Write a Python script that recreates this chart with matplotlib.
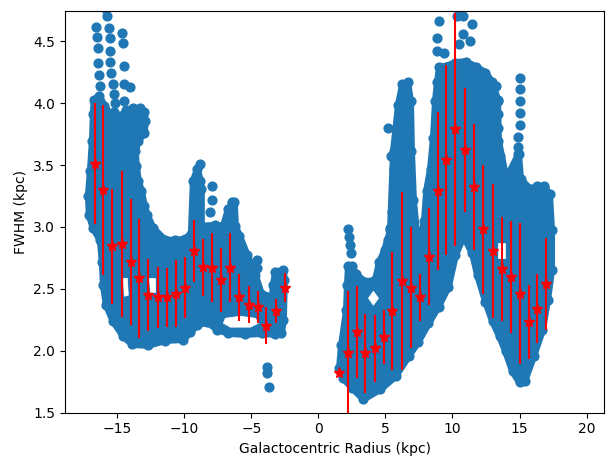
import numpy as np
import matplotlib
matplotlib.use("Agg")
import matplotlib.pyplot as plt
from matplotlib.patches import Polygon

BLUE = "#1f77b4"

# binned FWHM means with scatter (kpc)
bin_r_inner = [-16.7, -16.07, -15.4, -14.65, -14.0, -13.36, -12.69, -11.99, -11.3, -10.62, -9.93,
               -9.25, -8.6, -7.93, -7.24, -6.57, -5.9, -5.2, -4.53, -3.88, -3.16, -2.51]
bin_fwhm_inner = [3.51, 3.30, 2.845, 2.86, 2.72, 2.585, 2.45, 2.43, 2.43, 2.46, 2.51,
                  2.805, 2.675, 2.67, 2.57, 2.67, 2.43, 2.37, 2.35, 2.20, 2.32, 2.51]
bin_err_inner = [0.49, 0.69, 0.465, 0.59, 0.51, 0.48, 0.29, 0.25, 0.24, 0.27, 0.25,
                 0.25, 0.23, 0.28, 0.26, 0.28, 0.19, 0.15, 0.13, 0.15, 0.10, 0.12]

bin_r_outer = [1.57, 2.19, 2.84, 3.48, 4.2, 4.87, 5.5, 6.22, 6.87, 7.54, 8.26, 8.9,
               9.55, 10.2, 10.92, 11.6, 12.27, 12.99, 13.66, 14.33, 15.0, 15.7, 16.34, 17.0]
bin_fwhm_outer = [1.82, 1.985, 2.15, 1.98, 2.02, 2.11, 2.32, 2.56, 2.51, 2.43, 2.76, 3.29,
                  3.54, 3.79, 3.62, 3.32, 2.98, 2.805, 2.66, 2.595, 2.46, 2.23, 2.34, 2.54]
bin_err_outer = [0.03, 0.495, 0.37, 0.32, 0.27, 0.22, 0.48, 0.72, 0.49, 0.19, 0.39, 0.64,
                 0.77, 0.94, 0.50, 0.51, 0.52, 0.54, 0.42, 0.45, 0.57, 0.30, 0.28, 0.37]

# outline of the dense point clouds (R, FWHM), traced along the centres of the edge points
cloud_neg_r = [-16.74, -16.34, -15.97, -15.52, -15.22, -14.78, -14.33, -13.81, -13.28, -12.98,
               -12.91, -12.98, -13.43, -13.66, -13.58, -13.43, -13.21, -12.98, -12.76, -12.31,
               -11.42, -10.67, -9.93, -9.48, -9.33, -9.03, -8.81, -8.73, -8.73, -7.69,
               -7.09, -6.72, -6.42, -6.27, -6.19, -5.90, -5.30, -4.70, -4.25, -3.43,
               -3.36, -3.21, -2.61, -2.54, -2.61, -2.76, -3.21, -4.18, -5.45, -6.72,
               -7.54, -8.28, -9.03, -9.55, -10.07, -11.42, -12.69, -13.88, -14.55, -15.30,
               -15.82, -16.04, -16.12, -16.27, -16.79, -17.09, -17.16, -17.01, -16.86, -16.79]
cloud_neg_fwhm = [4.03, 4.055, 3.982, 3.91, 3.926, 3.893, 3.942, 3.958, 3.958, 3.926,
                  3.859, 3.760, 3.698, 3.617, 3.496, 3.375, 3.294, 3.173, 3.093, 2.988,
                  2.893, 2.893, 2.901, 2.947, 3.375, 3.466, 3.375, 3.310, 3.006, 3.014,
                  3.006, 3.143, 3.200, 3.200, 3.006, 2.931, 2.770, 2.609, 2.458, 2.434,
                  2.528, 2.635, 2.651, 2.569, 2.246, 2.139, 2.131, 2.139, 2.131, 2.139,
                  2.171, 2.228, 2.211, 2.147, 2.090, 2.082, 2.042, 2.050, 2.115, 2.236,
                  2.367, 2.528, 2.714, 2.891, 2.988, 3.093, 3.254, 3.456, 3.698, 3.910]

cloud_pos_r = [1.57, 1.72, 2.09, 2.16, 2.24, 2.54, 2.77, 3.51, 4.25, 4.55, 4.93, 5.37, 5.60,
               5.97, 6.27, 6.65, 6.87, 6.94, 7.09, 7.46, 7.91, 8.07, 8.36, 8.58, 8.73, 8.88,
               9.03, 9.48, 10.22, 10.97, 11.72, 12.46, 12.98, 13.36, 13.43, 13.96, 14.26, 14.92,
               14.93, 15.08, 15.82, 16.34, 16.79, 17.24, 17.39, 17.39, 17.09, 16.71, 16.05,
               15.38, 15.00, 14.48, 13.96, 13.51, 12.99, 12.46, 11.87, 11.49, 10.82, 10.22,
               9.70, 8.96, 8.21, 7.46, 6.72, 5.75, 4.63, 3.36, 2.54, 1.87]
cloud_pos_fwhm = [1.859, 2.044, 2.327, 2.528, 2.684, 2.684, 2.619, 2.555, 2.571, 2.714, 2.811,
                  2.972, 3.617, 3.990, 4.152, 4.168, 4.020, 3.617, 3.214, 2.800, 3.052, 3.294,
                  3.472, 3.722, 4.020, 4.176, 4.297, 4.297, 4.329, 4.337, 4.297, 4.248, 4.168,
                  4.030, 3.698, 3.410, 3.442, 3.587, 3.587, 3.385, 3.305, 3.329, 3.329, 3.264,
                  2.972, 2.649, 2.407, 2.165, 1.953, 1.752, 1.744, 1.832, 1.994, 2.115, 2.236,
                  2.397, 2.609, 2.786, 2.926, 2.770, 2.518, 2.357, 2.220, 2.074, 1.953, 1.792,
                  1.687, 1.607, 1.695, 1.776]

# empty pockets inside the clouds
gaps = [
    ([-6.94, -5.82, -4.70, -4.48, -5.07, -6.57, -7.09], [2.262, 2.278, 2.262, 2.222, 2.190, 2.190, 2.222]),
    ([-14.55, -14.25, -14.18, -14.48], [2.585, 2.585, 2.448, 2.440]),
    ([-12.61, -12.16, -12.16, -12.54], [2.585, 2.585, 2.472, 2.472]),
    ([3.73, 4.10, 4.48, 4.10], [2.424, 2.480, 2.424, 2.367]),
    ([13.43, 13.88, 13.88, 13.43], [2.868, 2.868, 2.746, 2.746]),
]

# isolated measurements outside the dense clouds
sparse_r = [-16.57, -16.51, -16.42, -16.42, -16.34, -16.27,
            -15.82, -15.77, -15.65, -15.57, -15.57, -15.52, -15.45, -15.35, -15.28, -15.20,
            -14.65, -14.60, -14.53, -14.53, -14.03, -14.53, -13.81, -13.73,
            -8.81, -7.93, -7.93, -8.06, -4.55, -4.55, -3.83, -3.81, -3.66,
            2.24, 2.31, 2.39, 2.46,
            5.22, 5.45, 5.82, 5.67, 5.75, 5.60, 5.52, 5.37, 5.22,
            8.96, 8.88, 8.81, 9.33, 10.37, 10.75, 11.49, 10.75, 10.45, 11.34,
            13.21, 13.36, 13.43, 13.36, 13.51, 13.58,
            15.07, 15.07, 15.07, 15.00, 15.00, 14.85, 14.85, 16.79]
sparse_fwhm = [4.617, 4.536, 4.448, 4.327, 4.230, 4.141,
               4.762, 4.706, 4.609, 4.528, 4.423, 4.335, 4.246, 4.157, 4.077, 4.004,
               4.569, 4.488, 4.302, 4.157, 4.133, 4.020, 3.577, 3.649,
               3.512, 3.335, 3.214, 3.117, 2.730, 2.665, 1.867, 1.819, 1.706,
               2.980, 2.915, 2.851, 2.786,
               3.802, 3.577, 3.641, 3.472, 3.375, 3.214, 3.117, 2.988, 2.891,
               4.665, 4.528, 4.423, 4.407, 4.706, 4.706, 4.641, 4.561, 4.480, 4.504,
               4.141, 4.020, 3.915, 3.802, 3.577, 3.496,
               4.206, 4.117, 4.020, 3.923, 3.827, 3.730, 3.649, 3.327]

fig = plt.figure(figsize=(6.06, 4.59), dpi=100)
ax = fig.add_axes([0.1073, 0.1013, 0.8894, 0.8758])

for xs, ys in [(cloud_neg_r, cloud_neg_fwhm), (cloud_pos_r, cloud_pos_fwhm)]:
    ax.add_patch(Polygon(np.column_stack([xs, ys]), closed=True, facecolor=BLUE,
                         edgecolor=BLUE, linewidth=5, joinstyle="round", zorder=1))
    # the outermost points of each cloud
    ax.scatter(xs, ys, s=40, color=BLUE, zorder=1)
for xs, ys in gaps:
    ax.add_patch(Polygon(np.column_stack([xs, ys]), closed=True, facecolor="white",
                         edgecolor="white", linewidth=0.5, zorder=1.5))

ax.scatter(sparse_r, sparse_fwhm, s=40, color=BLUE, zorder=2)

ax.errorbar(bin_r_inner, bin_fwhm_inner, yerr=bin_err_inner, fmt="*", color="red",
            markersize=8, zorder=3)
ax.errorbar(bin_r_outer, bin_fwhm_outer, yerr=bin_err_outer, fmt="*", color="red",
            markersize=8, zorder=3)

ax.set_xlim(-18.9, 21.3)
ax.set_ylim(1.5, 4.75)
ax.set_xticks([-15, -10, -5, 0, 5, 10, 15, 20])
ax.set_yticks([1.5, 2.0, 2.5, 3.0, 3.5, 4.0, 4.5])
ax.set_xlabel("Galactocentric Radius (kpc)")
ax.set_ylabel("FWHM (kpc)")

fig.savefig("out.png", dpi=100)
